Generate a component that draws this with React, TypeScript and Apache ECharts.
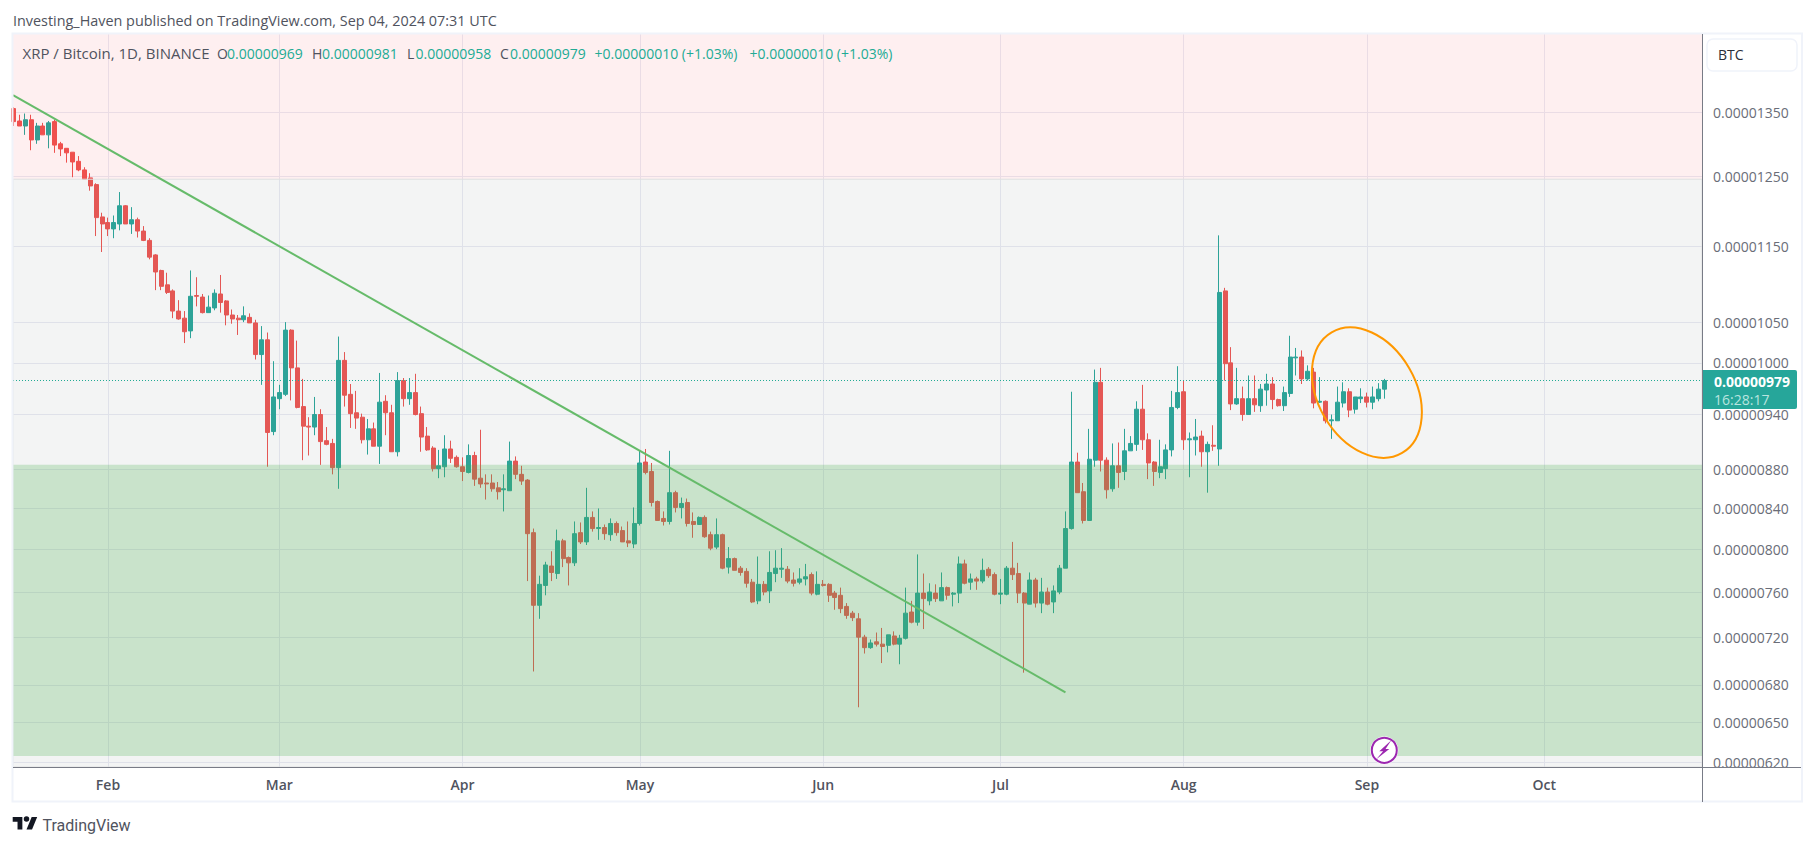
import React, { useEffect, useRef } from "react";
import * as echarts from "echarts";

// Daily rows, in satoshi per XRP: [open, close, low, high]
const jan2024 = [
  [1356,1335,1328,1358],[1336,1328,1328,1346],[1328,1338,1314,1348],[1338,1306,1290,1346],
  [1306,1328,1300,1333],[1328,1314,1314,1333],[1314,1333,1293,1336],[1335,1298,1286,1338],
  [1300,1292,1281,1303],[1293,1286,1271,1293],[1287,1272,1249,1287],[1273,1260,1258,1281],
  [1260,1246,1246,1264],[1248,1236,1229,1255],[1238,1190,1164,1240],[1191,1181,1142,1197],
];
const feb2024 = [
  [1183,1174,1164,1190],[1174,1183,1161,1193],[1181,1207,1172,1227],[1207,1181,1181,1208],
  [1181,1187,1167,1205],[1187,1171,1162,1190],[1171,1158,1157,1178],[1158,1135,1132,1161],
  [1138,1115,1091,1139],[1117,1096,1091,1118],[1098,1088,1086,1114],[1090,1064,1055,1092],
  [1064,1054,1053,1078],[1055,1038,1024,1064],[1039,1083,1030,1117],[1084,1083,1070,1108],
  [1082,1062,1061,1086],[1062,1069,1062,1084],[1068,1087,1065,1092],[1086,1075,1062,1111],
  [1077,1059,1046,1078],[1059,1054,1048,1066],[1055,1053,1034,1059],[1053,1058,1050,1070],
  [1056,1049,1049,1061],[1049,1010,1004,1053],[1010,1028,974,1045],[1028,920,883,1037],
  [921,960,917,1002],
];
const mar2024 = [
  [958,965,946,974],[963,1040,961,1050],[1040,994,956,1041],[994,948,947,1027],
  [949,927,890,981],[927,926,895,937],[926,940,917,960],[940,910,885,946],
  [911,907,906,926],[908,882,875,913],[882,1003,860,1032],[1003,962,949,1013],
  [963,941,925,975],[942,936,924,967],[937,912,908,941],[912,924,896,935],
  [924,905,905,931],[905,954,886,988],[955,942,917,962],[942,899,899,951],
  [899,979,894,989],[979,958,949,982],[958,965,951,982],[965,940,939,987],
  [941,915,899,949],[916,901,900,926],[903,881,878,905],[881,884,871,901],
  [883,902,872,917],[902,892,887,911],[893,883,882,895],
];
const apr2024 = [
  [883,878,868,893],[877,895,876,907],[895,870,863,899],[871,865,861,923],
  [866,865,849,875],[866,860,857,875],[861,857,849,867],[859,860,837,875],
  [858,889,858,910],[889,875,870,894],[875,868,864,884],[869,815,770,870],
  [816,748,691,820],[748,767,736,775],[766,785,757,788],[784,778,770,798],
  [777,808,772,819],[808,791,783,810],[792,787,766,793],[787,815,784,827],
  [816,807,805,826],[807,831,804,861],[831,820,817,837],[820,821,809,840],
  [821,815,809,824],[814,825,808,830],[825,816,813,827],[818,807,807,822],
  [808,806,802,827],[805,825,801,841],
];
const may2024 = [
  [825,887,823,900],[888,877,875,902],[878,846,842,887],[847,828,828,848],
  [830,827,823,837],[827,856,824,900],[856,841,836,858],[841,845,830,851],
  [846,825,822,850],[827,824,811,836],[824,831,824,832],[831,812,811,833],
  [814,801,799,817],[802,814,800,830],[814,782,781,815],[783,791,777,802],
  [791,780,780,792],[782,778,775,784],[779,768,764,782],[769,751,750,772],
  [752,767,749,793],[767,760,757,770],[761,778,750,798],[777,782,769,799],
  [781,782,773,801],[781,770,768,784],[771,768,765,778],[769,772,767,782],
  [772,774,766,786],[776,759,757,778],[758,767,757,779],
];
const jun2024 = [
  [767,766,765,771],[767,757,751,768],[759,755,744,761],[757,745,741,764],
  [747,739,736,750],[741,737,734,743],[736,720,662,741],[720,711,706,722],
  [711,715,710,718],[716,714,712,724],[714,712,698,728],[713,722,707,722],
  [721,714,713,725],[714,719,697,722],[719,741,718,764],[742,733,732,752],
  [733,759,730,795],[759,754,727,777],[752,760,748,768],[759,754,751,767],
  [752,764,752,778],[764,757,753,765],[758,759,747,760],[759,786,750,793],
  [786,768,767,790],[769,772,762,777],[772,770,762,774],[770,780,768,791],
  [781,775,773,783],[776,758,757,778],
];
const jul2024 = [
  [758,759,749,772],[758,782,757,784],[782,776,771,807],[777,759,750,787],
  [759,750,690,760],[749,771,749,778],[771,750,746,773],[750,760,741,773],
  [760,749,748,764],[751,761,741,766],[760,782,758,785],[782,820,782,837],
  [820,888,819,966],[888,856,856,898],[857,828,825,866],[828,891,828,924],
  [890,977,883,992],[977,890,878,994],[890,859,850,893],[860,884,857,908],
  [884,877,861,909],[878,900,869,924],[900,908,900,916],[907,946,900,955],
  [946,912,901,974],[912,887,870,919],[888,878,863,889],[877,883,871,912],
  [881,901,870,907],[901,948,894,967],[948,965,946,996],
];
const aug2024 = [
  [966,912,901,979],[912,913,872,920],[912,915,895,935],[916,899,883,922],
  [899,907,856,910],[906,905,900,928],[902,1088,884,1165],[1090,999,979,1094],
  [1000,952,945,1019],[952,958,951,994],[958,940,933,972],[940,958,940,985],
  [958,951,943,985],[950,969,943,975],[968,975,950,987],[975,957,946,983],
  [957,950,949,958],[950,965,944,972],[964,1007,960,1033],[1006,1007,985,1018],
  [1007,981,975,1015],[981,990,979,997],[989,953,947,994],[954,955,953,983],
  [955,933,930,956],[933,934,913,940],[933,954,933,972],[953,966,948,977],
  [966,945,937,970],[946,960,941,960],[958,960,953,970],
];
const sep2024 = [[960,954,948,965],[954,960,946,972],[958,969,955,976],[969,979,958,981]];

const priceTicks = [1350,1250,1150,1050,1000,940,880,840,800,760,720,680,650,620];
const monthLabels = ["Feb","Mar","Apr","May","Jun","Jul","Aug","Sep","Oct"];
const monthStartDays = [16,45,76,106,137,167,198,229,259];

const lastPrice = 979;
const yMin = 616.3;
const yMax = 1482.7;
const xMin = -0.07;
const xMax = 285.7;
const pinkBand = [1246, yMax];
const grayBand = [yMin, 1246];
const greenBand = [624.5, 885];
const trendDays = [xMin, 178];
const trendValues = [1378, 674];
const ellipseCenter = [229, 965];

const headerText = "Investing_Haven published on TradingView.com, Sep 04, 2024 07:31 UTC";
const titleText = "XRP / Bitcoin, 1D, BINANCE";
const ohlcLetters = ["O","H","L","C"];
const ohlcValues = ["0.00000969","0.00000981","0.00000958","0.00000979"];
const changeText = "+0.00000010 (+1.03%)";

const UI_FONT = "'Open Sans'";

const TV_LOGO = "M14 22H7V11H0V4h14v18zM28 22h-8l7.5-18h8L28 22zM24 7a4 4 0 1 1-8 0a4 4 0 1 1 8 0z";
const BOLT = "M7 -10 L-5 1 L-1.2 1 L-8 9 L5 -1.2 L1.2 -1.2 Z";
echarts.graphic.registerShape("tvlogo", echarts.graphic.extendPath(TV_LOGO as any, {}) as any);
echarts.graphic.registerShape("bolt", echarts.graphic.extendPath(BOLT as any, {}) as any);

export default function App() {
  const ref = useRef<HTMLDivElement>(null);
  useEffect(() => {
    document.body.style.margin = "0";
    const chart = echarts.init(ref.current!, undefined, { renderer: "svg" });
    const rows = [...jan2024, ...feb2024, ...mar2024, ...apr2024, ...may2024, ...jun2024, ...jul2024, ...aug2024, ...sep2024];
    const candles = rows.map((r, i) => [i, r[0], r[1], r[2], r[3]]);

    const legendItems: any[] = [{ t: titleText, x: 22.5, c: "#50535e", s: 15 }];
    const letterX = [217, 312, 407, 500];
    const valueX = [227, 322, 415.5, 510];
    ohlcLetters.forEach((l, i) => {
      legendItems.push({ t: l, x: letterX[i], c: "#50535e", s: 14 });
      legendItems.push({ t: ohlcValues[i], x: valueX[i], c: "#22ab94", s: 14 });
    });
    legendItems.push({ t: changeText, x: 594.5, c: "#22ab94", s: 14 });
    legendItems.push({ t: changeText, x: 749.5, c: "#22ab94", s: 14 });

    chart.setOption({
      animation: false,
      backgroundColor: "#ffffff",
      grid: { left: 13, right: 113, top: 34, bottom: 79, containLabel: false },
      xAxis: {
        type: "value",
        min: xMin,
        max: xMax,
        axisLine: { show: true, onZero: false, lineStyle: { color: "#787b86", width: 1 } },
        axisTick: { show: false, customValues: monthStartDays },
        splitLine: { show: true, lineStyle: { color: "#eaebf3", width: 1 } },
        axisLabel: {
          customValues: monthStartDays,
          margin: 10,
          color: "#50535e",
          fontFamily: UI_FONT,
          fontSize: 14,
          fontWeight: 600,
          formatter: (v: number) => monthLabels[monthStartDays.indexOf(v)] ?? "",
        },
      },
      yAxis: {
        type: "log",
        logBase: 10,
        position: "right",
        min: yMin,
        max: yMax,
        axisLine: { show: true, onZero: false, lineStyle: { color: "#787b86", width: 1 } },
        axisTick: { show: false, customValues: priceTicks },
        splitLine: { show: true, lineStyle: { color: "#eaebf3", width: 1 } },
        axisLabel: {
          customValues: priceTicks,
          margin: 11,
          color: "#6a6d78",
          fontFamily: UI_FONT,
          fontSize: 14,
          formatter: (v: number) => (v * 1e-8).toFixed(8),
        },
      },
      series: [
        {
          type: "candlestick",
          z: 2,
          barWidth: 4.5,
          data: candles,
          itemStyle: {
            color: "#26a69a",
            color0: "#ef5350",
            borderColor: "#26a69a",
            borderColor0: "#ef5350",
            borderWidth: 1,
          },
          markLine: {
            z: 5,
            silent: true,
            symbol: "none",
            label: { show: false },
            lineStyle: { color: "#22ab94", type: [1, 2], width: 1 },
            data: [{ yAxis: lastPrice }],
          },
        },
        {
          type: "line",
          z: 6,
          data: [[trendDays[0], trendValues[0]], [trendDays[1], trendValues[1]]],
          showSymbol: false,
          lineStyle: { color: "#66bb6a", width: 2 },
          markArea: {
            z: 3,
            silent: true,
            data: [
              [
                { xAxis: xMin, yAxis: pinkBand[1], itemStyle: { color: "rgba(242,54,69,0.08)", borderWidth: 0 } },
                { xAxis: xMax, yAxis: pinkBand[0] },
              ],
              [
                { xAxis: xMin, yAxis: grayBand[1], itemStyle: { color: "rgba(120,130,130,0.09)", borderColor: "#dfe1e1", borderWidth: 1 } },
                { xAxis: xMax, yAxis: grayBand[0] },
              ],
              [
                { xAxis: xMin, yAxis: greenBand[1], itemStyle: { color: "rgba(76,175,80,0.25)", borderWidth: 0 } },
                { xAxis: xMax, yAxis: greenBand[0] },
              ],
            ],
          },
        },
        {
          type: "custom",
          z: 7,
          silent: true,
          clip: false,
          data: [ellipseCenter],
          encode: { x: 0, y: 1 },
          renderItem: (_p: any, api: any) => {
            const pt = api.coord([api.value(0), api.value(1)]);
            return {
              type: "ellipse",
              x: pt[0],
              y: pt[1],
              rotation: -1.042,
              shape: { cx: 0, cy: 0, rx: 69.9, ry: 48.9 },
              style: { fill: "none", stroke: "#ff9800", lineWidth: 2 },
            };
          },
        },
      ],
      graphic: [
        { type: "rect", z: 20, silent: true, shape: { x: 12.5, y: 33.5, width: 1789.5, height: 768 }, style: { fill: "none", stroke: "#f0f3fa", lineWidth: 2 } },
        { type: "line", z: 21, silent: true, shape: { x1: 1702.5, y1: 34, x2: 1702.5, y2: 802 }, style: { stroke: "#787b86", lineWidth: 1 } },
        { type: "line", z: 21, silent: true, shape: { x1: 13, y1: 767.5, x2: 1801, y2: 767.5 }, style: { stroke: "#787b86", lineWidth: 1 } },
        { type: "text", z: 22, x: 13, y: 20, style: { text: headerText, fill: "#50535e", font: `14.4px ${UI_FONT}`, verticalAlign: "middle" } },
        ...legendItems.map((it) => ({ type: "text", z: 22, x: it.x, y: 53, style: { text: it.t, fill: it.c, font: `${it.s}px ${UI_FONT}`, verticalAlign: "middle" } })),
        { type: "rect", z: 22, shape: { x: 1707, y: 39, width: 90, height: 32, r: 6 }, style: { fill: "#ffffff", stroke: "#f0f3fa", lineWidth: 1.5 } },
        { type: "text", z: 23, x: 1718, y: 54, style: { text: "BTC", fill: "#2a2e39", font: `14px ${UI_FONT}`, verticalAlign: "middle" } },
        { type: "rect", z: 24, shape: { x: 1703, y: 370, width: 94, height: 39, r: [0, 2, 2, 0] }, style: { fill: "#26a69a" } },
        { type: "text", z: 25, x: 1714, y: 381, style: { text: (lastPrice * 1e-8).toFixed(8), fill: "#ffffff", font: `bold 14px ${UI_FONT}`, verticalAlign: "middle" } },
        { type: "text", z: 25, x: 1714, y: 399, style: { text: "16:28:17", fill: "#b9e4df", font: `14px ${UI_FONT}`, verticalAlign: "middle" } },
        { type: "circle", z: 26, shape: { cx: 1384.3, cy: 750.3, r: 14 }, style: { fill: "#ffffff" } },
        { type: "circle", z: 27, shape: { cx: 1384.3, cy: 750.3, r: 12.5 }, style: { fill: "#ffffff", stroke: "#9c27b0", lineWidth: 2 } },
        { type: "bolt", z: 28, x: 1384.3, y: 750.3, style: { fill: "#9c27b0" } },
        { type: "tvlogo", z: 22, x: 12.7, y: 814.2, scaleX: 0.69, scaleY: 0.69, style: { fill: "#131722" } },
        { type: "text", z: 22, x: 42.5, y: 825, style: { text: "TradingView", fill: "#50535e", font: "16px Roboto", verticalAlign: "middle" } },
      ],
    });
    return () => chart.dispose();
  }, []);
  return <div ref={ref} style={{ position: "absolute", left: 0, top: 0, width: 1815, height: 846 }} />;
}
